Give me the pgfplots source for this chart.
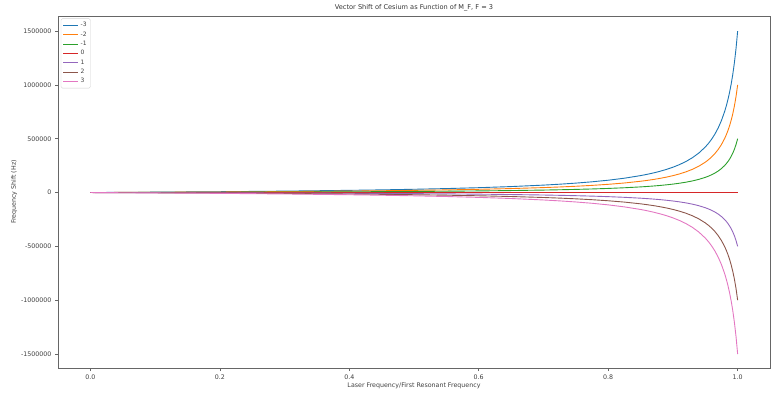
\documentclass[border=0pt]{standalone}
\usepackage{fontspec}
\setmainfont{DejaVu Sans}
\usepackage{pgfplots}
\usepackage{pgfplotstable}
\pgfplotsset{compat=1.18}
\definecolor{c0}{HTML}{1F77B4}
\definecolor{c1}{HTML}{FF7F0E}
\definecolor{c2}{HTML}{2CA02C}
\definecolor{c3}{HTML}{D62728}
\definecolor{c4}{HTML}{9467BD}
\definecolor{c5}{HTML}{8C564B}
\definecolor{c6}{HTML}{E377C2}
\pgfplotstableread{
x      mm3      mm2      mm1     z   p1       p2        p3
0      0        0        0       0   0        0         0
0.1    3435     2290     1145    0   -1145    -2290     -3435
0.2    7710     5140     2570    0   -2570    -5140     -7710
0.3    13167    8778     4389    0   -4389    -8778     -13167
0.4    20382    13588    6794    0   -6794    -13588    -20382
0.45   24939    16626    8313    0   -8313    -16626    -24939
0.5    30369    20246    10123   0   -10123   -20246    -30369
0.55   36951    24634    12317   0   -12317   -24634    -36951
0.6    45096    30064    15032   0   -15032   -30064    -45096
0.65   55437    36958    18479   0   -18479   -36958    -55437
0.7    68997    45998    22999   0   -22999   -45998    -68997
0.725  77496    51664    25832   0   -25832   -51664    -77496
0.75   87561    58374    29187   0   -29187   -58374    -87561
0.775  99672    66448    33224   0   -33224   -66448    -99672
0.8    114519   76346    38173   0   -38173   -76346    -114519
0.825  133152   88768    44384   0   -44384   -88768    -133152
0.85   157233   104822   52411   0   -52411   -104822   -157233
0.86   168957   112638   56319   0   -56319   -112638   -168957
0.87   182235   121490   60745   0   -60745   -121490   -182235
0.88   197391   131594   65797   0   -65797   -131594   -197391
0.89   214863   143242   71621   0   -71621   -143242   -214863
0.9    235218   156812   78406   0   -78406   -156812   -235218
0.91   259239   172826   86413   0   -86413   -172826   -259239
0.92   288012   192008   96004   0   -96004   -192008   -288012
0.93   323100   215400   107700  0   -107700  -215400   -323100
0.94   366843   244562   122281  0   -122281  -244562   -366843
0.95   422889   281926   140963  0   -140963  -281926   -422889
0.955  457275   304850   152425  0   -152425  -304850   -457275
0.96   497283   331522   165761  0   -165761  -331522   -497283
0.965  544425   362950   181475  0   -181475  -362950   -544425
0.97   600792   400528   200264  0   -200264  -400528   -600792
0.975  669387   446258   223129  0   -223129  -446258   -669387
0.98   754671   503114   251557  0   -251557  -503114   -754671
0.9825 805599   537066   268533  0   -268533  -537066   -805599
0.985  863580   575720   287860  0   -287860  -575720   -863580
0.9875 930189   620126   310063  0   -310063  -620126   -930189
0.99   1007508  671672   335836  0   -335836  -671672   -1007508
0.9925 1098342  732228   366114  0   -366114  -732228   -1098342
0.995  1206579  804386   402193  0   -402193  -804386   -1206579
0.9975 1337745  891830   445915  0   -445915  -891830   -1337745
1.0    1500000  1000000  500000  0   -500000  -1000000  -1500000
}\shift
\begin{document}
\begin{tikzpicture}
\begin{axis}[
  scale only axis,
  width=712pt, height=352pt,
  xmin=-0.05, xmax=1.05,
  ymin=-1630000, ymax=1640000,
  xtick={0,0.2,0.4,0.6,0.8,1.0},
  ytick={-1500000,-1000000,-500000,0,500000,1000000,1500000},
  scaled ticks=false,
  xticklabel style={/pgf/number format/.cd, fixed, fixed zerofill, precision=1},
  yticklabel style={/pgf/number format/.cd, fixed, 1000 sep={}},
  /pgf/number format/assume math mode=true,
  tick label style={font=\fontsize{6.3}{7}\selectfont, text=black!75},
  label style={font=\fontsize{6.3}{7}\selectfont, text=black!75},
  title style={font=\fontsize{6.6}{7.5}\selectfont, text=black!80, yshift=-4.5pt},
  title={Vector Shift of Cesium as Function of M\_F, F = 3},
  xlabel={Laser Frequency/First Resonant Frequency},
  ylabel={Frequency Shift (Hz)},
  xlabel style={yshift=3pt},
  ylabel style={yshift=-3pt},
  tick align=outside, xtick pos=bottom, ytick pos=left,
  major tick length=3pt,
  tick style={black!60, line width=0.5pt},
  axis line style={black!60, line width=0.6pt},
  legend cell align=left,
  legend style={at={(0.004,0.993)}, anchor=north west, draw=black!18, rounded corners=1.5pt,
    font=\fontsize{6}{7}\selectfont, text=black!75, row sep=-0.6pt, inner sep=1.8pt},
  legend image code/.code={\draw[#1, line width=0.9pt] (0pt,0pt) -- (15pt,0pt);},
  every axis plot/.append style={line width=0.9pt, mark=none, line join=round},
]
\addplot[c0] table[x=x,y=mm3]{\shift};
\addlegendentry{-3}
\addplot[c1] table[x=x,y=mm2]{\shift};
\addlegendentry{-2}
\addplot[c2] table[x=x,y=mm1]{\shift};
\addlegendentry{-1}
\addplot[c3] table[x=x,y=z]{\shift};
\addlegendentry{0}
\addplot[c4] table[x=x,y=p1]{\shift};
\addlegendentry{1}
\addplot[c5] table[x=x,y=p2]{\shift};
\addlegendentry{2}
\addplot[c6] table[x=x,y=p3]{\shift};
\addlegendentry{3}
\end{axis}
\pgfresetboundingbox
\path[use as bounding box] ([shift={(-58pt,-24pt)}]current axis.south west) rectangle ([shift={(2pt,16pt)}]current axis.north east);
\end{tikzpicture}
\end{document}
